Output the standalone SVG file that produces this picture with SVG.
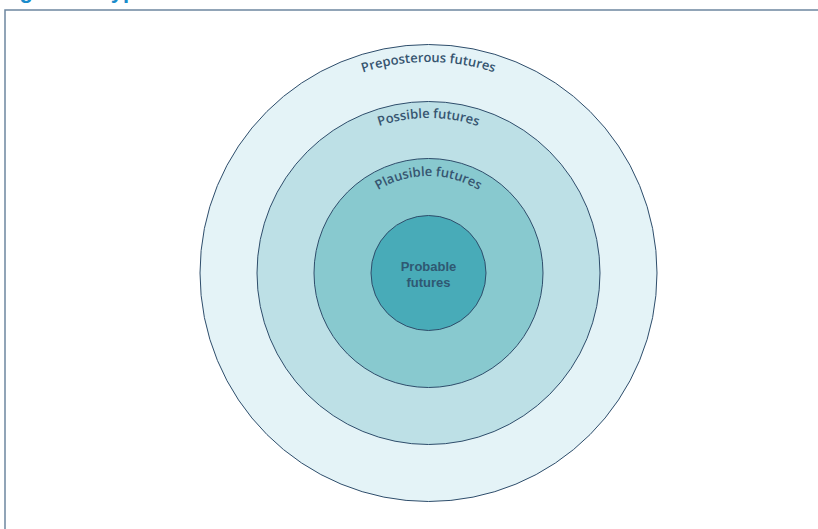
<svg xmlns="http://www.w3.org/2000/svg" xmlns:xlink="http://www.w3.org/1999/xlink" width="818" height="529" viewBox="0 0 818 529">
  <style>
    .ring { stroke: #2e4d6b; stroke-width: 1; }
    .arc-label { font-family: "Open Sans", "Noto Sans", "Liberation Sans", sans-serif; font-size: 13px; font-weight: 600; fill: #365570; }
    .core-label { font-family: "Liberation Sans", Arial, sans-serif; font-size: 13px; font-weight: 700; fill: #2f5872; text-anchor: middle; }
    .title { font-family: "Liberation Sans", Arial, sans-serif; font-size: 22px; font-weight: 700; fill: #1b8ccb; }
  </style>
  <defs>
    <path id="arc-outer" d="M 217.5 273 A 211 211 0 0 1 639.5 273"/>
    <path id="arc-possible" d="M 273.5 273 A 155 155 0 0 1 583.5 273"/>
    <path id="arc-plausible" d="M 331.5 273 A 97 97 0 0 1 525.5 273"/>
  </defs>
  <rect width="818" height="529" fill="#ffffff"/>
  <text class="title" x="0" y="-2">Figure 1: Types of futures</text>
  <path d="M 5 530 L 5 10 L 820 10" fill="none" stroke="#6d87a0" stroke-width="1.5"/>

  <g id="preposterous">
    <circle class="ring" cx="428.5" cy="273" r="228.5" fill="#e4f3f7"/>
    <text class="arc-label"><textPath href="#arc-outer" xlink:href="#arc-outer" startOffset="50%" text-anchor="middle">Preposterous futures</textPath></text>
  </g>
  <g id="possible">
    <circle class="ring" cx="428.5" cy="273" r="171.5" fill="#bde0e6"/>
    <text class="arc-label"><textPath href="#arc-possible" xlink:href="#arc-possible" startOffset="50%" text-anchor="middle">Possible futures</textPath></text>
  </g>
  <g id="plausible">
    <circle class="ring" cx="428.5" cy="273" r="114.5" fill="#88c9cf"/>
    <text class="arc-label"><textPath href="#arc-plausible" xlink:href="#arc-plausible" startOffset="50%" text-anchor="middle">Plausible futures</textPath></text>
  </g>
  <g id="probable">
    <circle class="ring" cx="428.5" cy="273" r="57.5" fill="#48abb8"/>
    <text class="core-label"><tspan x="428.5" y="271">Probable</tspan><tspan x="428.5" y="287">futures</tspan></text>
  </g>
  <g id="connectors"/>
</svg>
